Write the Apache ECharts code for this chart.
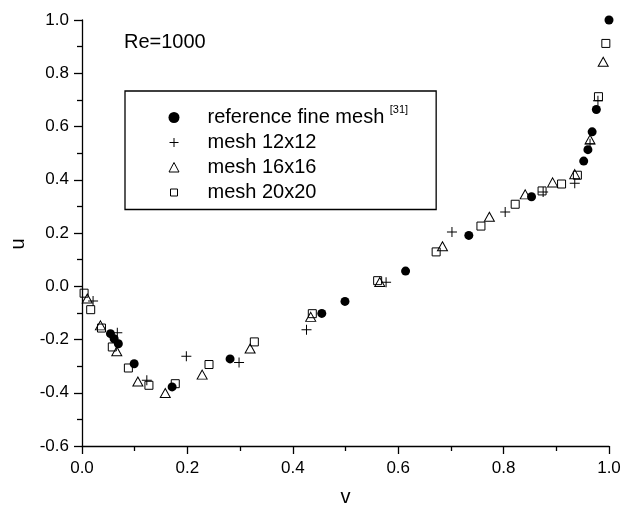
<!DOCTYPE html>
<html><head><meta charset="utf-8">
<script src="https://cdn.jsdelivr.net/npm/echarts@6/dist/echarts.min.js"></script>
<style>html,body{margin:0;padding:0;background:#fff}#c{width:621px;height:506px}</style>
</head><body><div id="c"></div>
<script>
// [v, u] pairs
const refFine = [[0.054,-0.178],[0.061,-0.197],[0.069,-0.216],[0.099,-0.291],[0.171,-0.378],[0.281,-0.273],[0.455,-0.102],[0.499,-0.057],[0.614,0.057],[0.734,0.191],[0.853,0.336],[0.952,0.470],[0.960,0.513],[0.968,0.580],[0.976,0.664],[1.0,1.0]];
const mesh12 = [[0.021,-0.055],[0.067,-0.175],[0.123,-0.353],[0.198,-0.263],[0.298,-0.286],[0.426,-0.163],[0.577,0.015],[0.702,0.204],[0.803,0.279],[0.875,0.354],[0.935,0.387],[0.964,0.535],[0.979,0.697]];
const mesh16 = [[0.010,-0.046],[0.035,-0.147],[0.066,-0.244],[0.106,-0.358],[0.158,-0.401],[0.228,-0.332],[0.319,-0.234],[0.434,-0.115],[0.565,0.016],[0.684,0.150],[0.773,0.261],[0.841,0.345],[0.893,0.390],[0.935,0.421],[0.964,0.551],[0.989,0.843]];
const mesh20 = [[0.004,-0.026],[0.0165,-0.088],[0.037,-0.157],[0.0575,-0.228],[0.088,-0.307],[0.127,-0.372],[0.177,-0.366],[0.241,-0.294],[0.327,-0.209],[0.437,-0.103],[0.561,0.021],[0.672,0.129],[0.757,0.226],[0.822,0.308],[0.873,0.358],[0.910,0.384],[0.940,0.417],[0.980,0.712],[0.994,0.912]];
const seriesNames = ['reference fine mesh','mesh 12x12','mesh 16x16','mesh 20x20'];
const xRange = [0, 1.0, 0.2];
const yRange = [-0.6, 1.0, 0.2];
const annotation = 'Re=1000';
const citation = '[31]';

const FONT = 'Liberation Sans, Arial, sans-serif';
const PLUS = 'path://M4.5,0H5.5V10H4.5Z M0,4.5H10V5.5H0Z';
// legend icons (11x11 boxes, move-to points fix the box)
const ICONS = [
  'circle',
  'path://M0,0M11,11M5,1H6V10H5ZM1,5H10V6H1Z',
  'path://M0,0M11,11M5.5,0.5L10.5,10L0.5,10Z',
  'path://M0,0M11,11M2,2H9V9H2Z'
];
const hollow = {color:'rgba(255,255,255,0)', borderColor:'#000', borderWidth:1, opacity:1};
const chart = echarts.init(document.getElementById('c'));
const axisCommon = {
  axisLine:{show:true, onZero:false, lineStyle:{color:'#000', width:1.3}},
  axisTick:{show:true, inside:false, length:8, lineStyle:{color:'#000', width:1.3}},
  minorTick:{show:true, splitNumber:2, length:5, lineStyle:{color:'#000', width:1.3}},
  splitLine:{show:false},
  axisLabel:{color:'#000', fontSize:17, fontFamily:FONT, formatter:v=>v.toFixed(1)},
  nameTextStyle:{color:'#000', fontSize:20, fontFamily:FONT}
};
chart.setOption({
  animation:false,
  backgroundColor:'#fff',
  grid:{left:82, right:12, top:20, bottom:60, containLabel:false, outerBoundsMode:'none'},
  xAxis:Object.assign({}, axisCommon, {type:'value', min:xRange[0], max:xRange[1], interval:xRange[2],
    name:'v', nameLocation:'middle', nameGap:41,
    axisLabel:Object.assign({}, axisCommon.axisLabel, {margin:14})}),
  yAxis:Object.assign({}, axisCommon, {type:'value', min:yRange[0], max:yRange[1], interval:yRange[2],
    name:'u', nameLocation:'middle', nameGap:52, nameRotate:90,
    nameTextStyle:Object.assign({}, axisCommon.nameTextStyle, {padding:[0,22,0,0]}),
    axisLabel:Object.assign({}, axisCommon.axisLabel, {margin:13})}),
  legend:{
    orient:'vertical', left:125, top:91,
    padding:[13,28,7,43], itemGap:5, itemWidth:11, itemHeight:11,
    borderColor:'#000', borderWidth:1.3,
    itemStyle:{borderWidth:1},
    data:seriesNames.map((n,i)=>({name:n, icon:ICONS[i]})),
    formatter: n => n === seriesNames[0] ? '{a|' + n + ' }{s|' + citation + '}' : '{a|' + n + '}',
    textStyle:{color:'#000', fontFamily:FONT, fontSize:20, lineHeight:20,
      rich:{a:{fontSize:20, fontFamily:FONT, color:'#000', lineHeight:20, padding:[0,0,0,23]},
            s:{fontSize:11, fontFamily:FONT, color:'#000', padding:[0,0,16,0]}}}
  },
  graphic:[{type:'text', left:124, top:32, style:{text:annotation, font:'20px Liberation Sans', fill:'#000'}}],
  series:[
    {name:seriesNames[0], type:'scatter', data:refFine, symbol:'circle', symbolSize:9, itemStyle:{color:'#000', opacity:1}, emphasis:{disabled:true}},
    {name:seriesNames[1], type:'scatter', data:mesh12, symbol:PLUS, symbolSize:10, itemStyle:{color:'#000', opacity:1}, emphasis:{disabled:true}},
    {name:seriesNames[2], type:'scatter', data:mesh16, symbol:'triangle', symbolSize:[10,9], itemStyle:hollow, emphasis:{disabled:true}},
    {name:seriesNames[3], type:'scatter', data:mesh20, symbol:'rect', symbolSize:8, itemStyle:hollow, emphasis:{disabled:true}}
  ]
});
</script></body></html>
